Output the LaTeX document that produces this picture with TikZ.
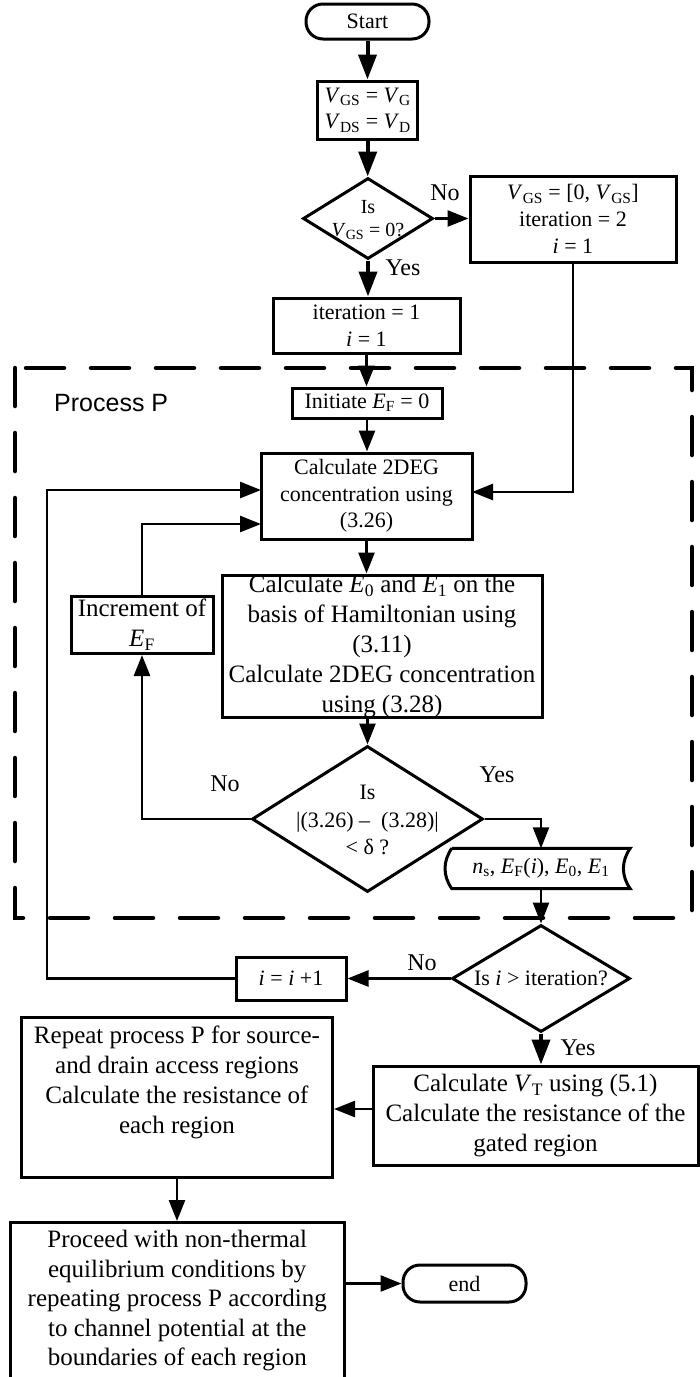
\documentclass[tikz,border=0pt]{standalone}
\usepackage{fontspec}
\setmainfont{Liberation Serif}
\newfontfamily\arialf{Liberation Sans}
\usetikzlibrary{arrows.meta,shapes.geometric,calc}
\newcommand{\VV}[1]{\textit{V}\textsubscript{#1}}
\newcommand{\EE}[1]{\textit{E}\textsubscript{#1}}
\begin{document}
\begin{tikzpicture}[x=1pt,y=-1pt,
  box/.style={draw, line width=3pt, inner sep=0pt, align=center},
  term/.style={draw, line width=3pt, rounded corners=17pt, inner sep=0pt, minimum width=123pt},
  dia/.style={draw, diamond, line width=3pt, inner sep=0pt},
  txt/.style={inner sep=0pt, align=center},
  fa/.style={font=\fontsize{20}{23}\selectfont},
  fb/.style={font=\fontsize{22}{26.7}\selectfont},
  fc/.style={font=\fontsize{25}{30}\selectfont},
  lbl/.style={font=\fontsize{24}{28}\selectfont, inner sep=0pt},
  arr/.style={line width=2.6pt, -{Triangle[length=21pt,width=16pt]}},
  tarr/.style={line width=4pt, -{Triangle[length=25pt,width=18pt]}},
  dashbox/.style={line width=4.5pt, line cap=round, dash pattern=on 38pt off 27pt}
]
\useasboundingbox (0,0) rectangle (700,1377);
\clip (0,0) rectangle (700,1377);

% dashed region
\draw[dashbox] (15,368) rectangle (692,918);

% nodes
\node[term, fb, minimum height=35pt] (start) at (367.5,21.5) {Start};
\node[box, fb, minimum width=100pt, minimum height=58pt] (b2) at (367.7,110) {\VV{GS} = \VV{G}\\\VV{DS} = \VV{D}};
\node[dia, minimum width=130pt, minimum height=81pt] (d1) at (368,218.5) {};
\node[txt, fa] (d1t) at (368,220) {Is\\\VV{GS} = 0?};
\node[box, fb, minimum width=206pt, minimum height=86pt] (b3) at (573,219) {\VV{GS} = [0, \VV{GS}]\\iteration = 2\\\textit{i} = 1};
\node[box, fb, minimum width=187pt, minimum height=55pt] (b4) at (366.5,325.5) {iteration = 1\\\textit{i} = 1};
\node[txt, font=\arialf\fontsize{25}{30}\selectfont, anchor=west] (pp) at (54,403) {Process P};
\node[box, fb, minimum width=150pt, minimum height=30pt] (init) at (367,403) {Initiate \EE{F} = 0};
\node[box, fb, minimum width=211pt, minimum height=86pt] (c1) at (366.5,496) {Calculate 2DEG\\concentration using\\(3.26)};
\node[box, minimum width=320pt, minimum height=142pt] (c2) at (382,646) {};
\node[txt, fc] (c2t) at (382,647) {Calculate \EE{0} and \EE{1} on the\\basis of Hamiltonian using\\(3.11)\\Calculate 2DEG concentration\\using (3.28)};
\node[box, fc, minimum width=142pt, minimum height=57pt] (inc) at (142,625) {Increment of\\\EE{F}};
\node[dia, minimum width=231pt, minimum height=146pt] (d2) at (367.5,819) {};
\node[txt, font=\fontsize{22}{27.5}\selectfont] (d2t) at (367.5,820) {Is\\|(3.26) –~~(3.28)|\\< δ ?};
\node[txt, fb, minimum width=178pt, minimum height=40pt] (out) at (541,868.5) {\textit{n}\textsubscript{s}, \EE{F}(\textit{i}), \EE{0}, \EE{1}};
\draw[line width=3pt] (out.north west) -- (out.north east) to[bend right=35] (out.south east) -- (out.south west) to[bend left=35] (out.north west);
\node[dia, minimum width=178pt, minimum height=107pt] (d3) at (541,978.5) {};
\node[txt, fb] (d3t) at (541,978.5) {Is \textit{i} > iteration?};
\node[box, fb, minimum width=110pt, minimum height=43pt] (iinc) at (291,978.5) {\textit{i} = \textit{i} +1};
\node[box, fc, minimum width=325pt, minimum height=99pt] (vt) at (535.5,1115.5) {Calculate \VV{T} using (5.1)\\Calculate the resistance of the\\gated region};
\node[box, minimum width=311pt, minimum height=160pt] (rep) at (177,1097) {};
\node[txt, fc] (rept) at (177,1082) {Repeat process P for source-\\and drain access regions\\Calculate the resistance of\\each region};
\node[box, minimum width=334.6pt, minimum height=180pt, anchor=north] (proc) at (177.3,1221) {};
\node[txt, font=\fontsize{25}{29.5}\selectfont] (proct) at (177.3,1301) {Proceed with non-thermal\\equilibrium conditions by\\repeating process P according\\to channel potential at the\\boundaries of each region};
\node[term, fb, minimum height=37pt] (fin) at (464.5,1283.5) {end};

% labels
\node[lbl] (no1) at (445,193) {No};
\node[lbl] (yes1) at (403,268) {Yes};
\node[lbl] (no2) at (225,784) {No};
\node[lbl] (yes2) at (497,775) {Yes};
\node[lbl] (no3) at (422,963) {No};
\node[lbl] (yes3) at (578,1048) {Yes};

% helper coordinates
\coordinate (c1r) at (472,492);
\coordinate (c1a) at (261,490);
\coordinate (c1b) at (261,524);
\coordinate (lc) at (47,490);
\coordinate (vtw) at (373,1109);

% connectors
\draw[tarr] (start.south) -- (start.south |- b2.north);
\draw[tarr] (b2.south) -- (b2.south |- d1.north);
\draw[arr] (d1.east) -- (d1.east -| b3.west);
\draw[tarr] (d1.south) -- (d1.south |- b4.north);
\draw[arr] (b4.south) -- (b4.south |- init.north);
\draw[arr] (b3.south) |- (c1r);
\draw[arr] (init.south) -- (init.south |- c1.north);
\draw[arr] (c1.south) -- (c1.south |- c2.north);
\draw[arr] (d2.north |- c2.south) -- (d2.north);
\draw[arr] (d2.west) -| (inc.south);
\draw[arr] (inc.north) |- (c1b);
\draw[arr] (d2.east) -| (out.north);
\draw[arr] (out.south) -- (d3.north);
\draw[arr] (d3.west) -- (iinc.east);
\draw[arr] (iinc.west) -| (lc) -- (c1a);
\draw[tarr] (d3.south) -- (d3.south |- vt.north);
\draw[arr] (vtw) -- (vtw -| rep.east);
\draw[arr] (rep.south) -- (rep.south |- proc.north);
\draw[arr] (proc.east |- fin.west) -- (fin.west);
\end{tikzpicture}
\end{document}
